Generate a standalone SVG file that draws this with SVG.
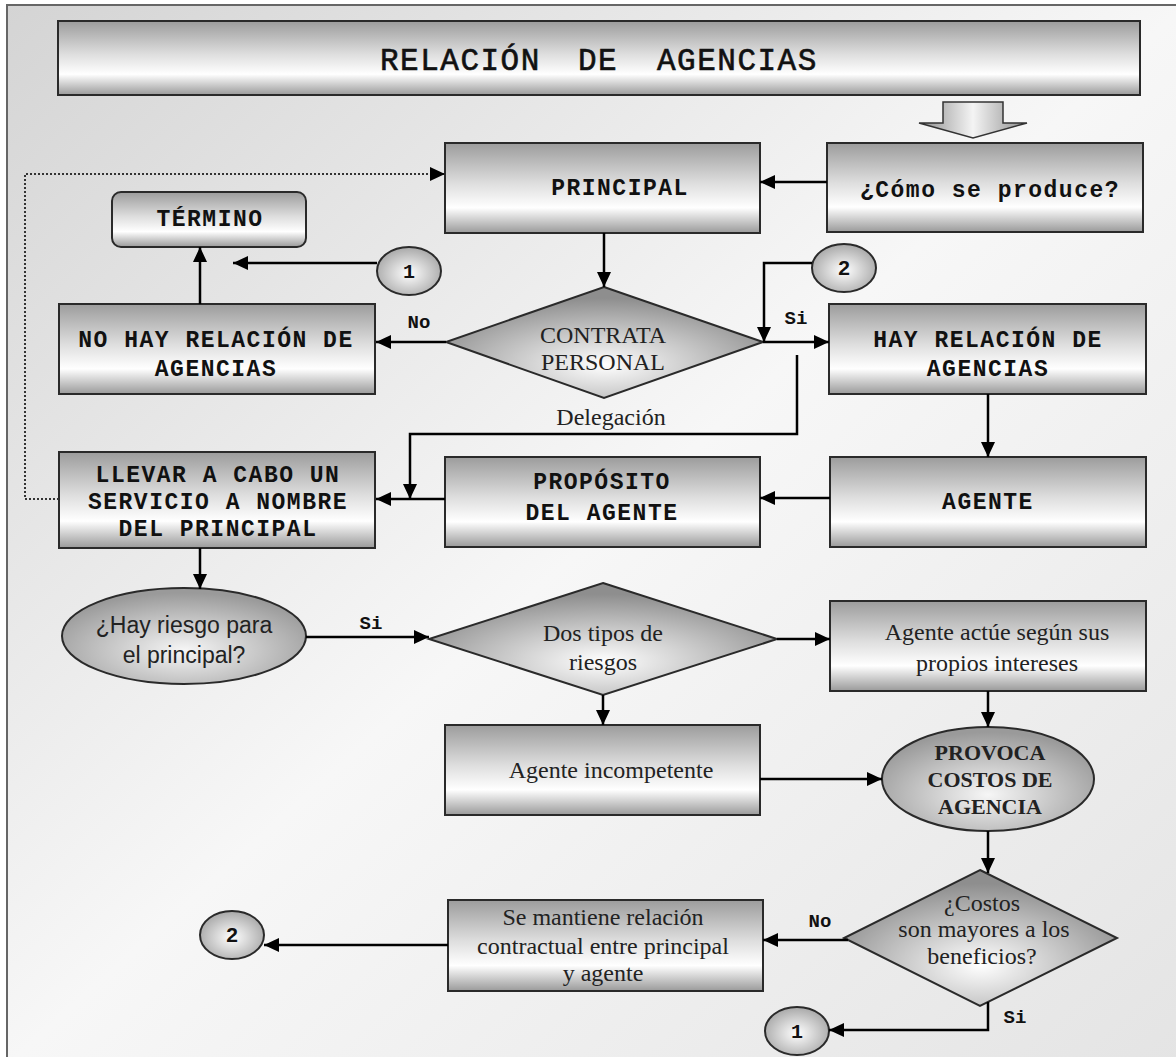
<svg xmlns="http://www.w3.org/2000/svg" width="1176" height="1057" viewBox="0 0 1176 1057">
<defs>
<linearGradient id="bg" x1="0" y1="0" x2="1" y2="1">
<stop offset="0" stop-color="#d4d4d4"/>
<stop offset="0.5" stop-color="#f7f7f7"/>
<stop offset="1" stop-color="#e4e4e4"/>
</linearGradient>
<linearGradient id="gBox" x1="0" y1="0" x2="0" y2="1">
<stop offset="0" stop-color="#9c9c9c"/>
<stop offset="0.45" stop-color="#dedede"/>
<stop offset="0.72" stop-color="#ffffff"/>
<stop offset="1" stop-color="#9a9a9a"/>
</linearGradient>
<linearGradient id="gArrow" x1="0" y1="0" x2="1" y2="0">
<stop offset="0" stop-color="#8c8c8c"/>
<stop offset="0.5" stop-color="#f4f4f4"/>
<stop offset="1" stop-color="#8c8c8c"/>
</linearGradient>
<radialGradient id="gDia" cx="0.5" cy="0.7" r="0.6">
<stop offset="0" stop-color="#ffffff"/>
<stop offset="1" stop-color="#8e8e8e"/>
</radialGradient>
<radialGradient id="gEll" cx="0.5" cy="0.65" r="0.6">
<stop offset="0" stop-color="#f6f6f6"/>
<stop offset="1" stop-color="#9a9a9a"/>
</radialGradient>
<radialGradient id="gCirc" cx="0.5" cy="0.55" r="0.55">
<stop offset="0" stop-color="#ffffff"/>
<stop offset="1" stop-color="#a8a8a8"/>
</radialGradient>
<marker id="ah" markerUnits="userSpaceOnUse" markerWidth="15" markerHeight="14" refX="15" refY="7" orient="auto">
<path d="M0,0 L15,7 L0,14 z" fill="#000"/>
</marker>
</defs>
<style>
.box{fill:url(#gBox);stroke:#2a2a2a;stroke-width:2}
.dia{fill:url(#gDia);stroke:#2a2a2a;stroke-width:2}
.ell{fill:url(#gEll);stroke:#2a2a2a;stroke-width:2}
.circ{fill:url(#gCirc);stroke:#2a2a2a;stroke-width:2}
.mono{font-family:"Liberation Mono","Courier New",monospace;font-weight:bold;font-size:23px;letter-spacing:1.5px;fill:#111;text-anchor:middle}
.ser{font-family:"Liberation Serif","Times New Roman",serif;font-size:24px;fill:#222;text-anchor:middle}
.serb{font-family:"Liberation Serif","Times New Roman",serif;font-size:22px;font-weight:bold;fill:#222;text-anchor:middle}
.sans{font-family:"Liberation Sans",Arial,sans-serif;font-size:23px;fill:#222;text-anchor:middle}
.lbl{font-family:"Liberation Mono","Courier New",monospace;font-weight:bold;font-size:19px;fill:#111;text-anchor:middle}
.num{font-family:"Liberation Mono","Courier New",monospace;font-weight:bold;font-size:20px;fill:#111;text-anchor:middle}
.nums{font-family:"Liberation Sans",Arial,sans-serif;font-weight:bold;font-size:21px;fill:#111;text-anchor:middle}
.con{fill:none;stroke:#000;stroke-width:2.5}
.dot{fill:none;stroke:#333;stroke-width:2;stroke-dasharray:2,2}
</style>

<rect x="0" y="0" width="1176" height="1057" fill="#ffffff"/>
<rect x="7" y="5" width="1180" height="1060" fill="url(#bg)" stroke="#666" stroke-width="2"/>

<g id="title">
<rect x="58" y="21" width="1082" height="74" class="box" stroke-width="2.5"/>
<text y="70" style="font-family:'Liberation Mono','Courier New',monospace;font-size:31px;letter-spacing:1.5px;fill:#111;stroke:#111;stroke-width:0.6"><tspan x="380">RELACIÓN</tspan><tspan x="578">DE</tspan><tspan x="657">AGENCIAS</tspan></text>
</g>

<g id="bigArrow">
<path d="M943,102 H1003 V123 H1027 L973,138 L919,123 H943 Z" fill="url(#gArrow)" stroke="#333" stroke-width="1.5"/>
</g>

<g id="como">
<rect x="827" y="143" width="316" height="89" class="box"/>
<text x="990" y="197" class="mono">¿Cómo se produce?</text>
</g>

<g id="principal">
<rect x="445" y="143" width="315" height="90" class="box"/>
<text x="620" y="195" class="mono">PRINCIPAL</text>
</g>

<g id="termino">
<rect x="112" y="192" width="194" height="55" rx="9" ry="9" class="box"/>
<text x="210" y="226" class="mono">TÉRMINO</text>
</g>

<g id="c1top">
<ellipse cx="409" cy="271" rx="32" ry="24" class="circ"/>
<text x="409" y="278" class="num">1</text>
</g>

<g id="c2top">
<ellipse cx="844" cy="268" rx="32" ry="24" class="circ"/>
<text x="844" y="275" class="nums">2</text>
</g>

<g id="noHay">
<rect x="59" y="304" width="316" height="90" class="box"/>
<text x="216" y="347" class="mono">NO HAY RELACIÓN DE</text>
<text x="216" y="376" class="mono">AGENCIAS</text>
</g>

<g id="contrata">
<polygon points="604,287 763,342 604,398 446,342" class="dia"/>
<text x="603" y="343" class="ser">CONTRATA</text>
<text x="603" y="370" class="ser">PERSONAL</text>
</g>

<g id="hay">
<rect x="829" y="304" width="317" height="90" class="box"/>
<text x="988" y="347" class="mono">HAY RELACIÓN DE</text>
<text x="988" y="376" class="mono">AGENCIAS</text>
</g>

<g id="llevar">
<rect x="59" y="452" width="316" height="96" class="box"/>
<text x="218" y="482" class="mono">LLEVAR A CABO UN</text>
<text x="218" y="509" class="mono">SERVICIO A NOMBRE</text>
<text x="218" y="536" class="mono">DEL PRINCIPAL</text>
</g>

<g id="proposito">
<rect x="445" y="457" width="315" height="90" class="box"/>
<text x="602" y="489" class="mono">PROPÓSITO</text>
<text x="602" y="520" class="mono">DEL AGENTE</text>
</g>

<g id="agente">
<rect x="830" y="457" width="316" height="90" class="box"/>
<text x="988" y="509" class="mono">AGENTE</text>
</g>

<g id="riesgo">
<ellipse cx="184" cy="636" rx="122" ry="48" class="ell"/>
<text x="184" y="633" class="sans">¿Hay riesgo para</text>
<text x="184" y="663" class="sans">el principal?</text>
</g>

<g id="dosTipos">
<polygon points="603,583 777,639 603,695 429,639" class="dia"/>
<text x="603" y="641" class="ser">Dos tipos de</text>
<text x="603" y="670" class="ser">riesgos</text>
</g>

<g id="actue">
<rect x="830" y="601" width="316" height="90" class="box"/>
<text x="997" y="640" class="ser">Agente actúe según sus</text>
<text x="997" y="671" class="ser">propios intereses</text>
</g>

<g id="incompetente">
<rect x="445" y="725" width="315" height="90" class="box"/>
<text x="611" y="778" class="ser">Agente incompetente</text>
</g>

<g id="provoca">
<ellipse cx="988" cy="779" rx="106" ry="52" class="ell"/>
<text x="990" y="760" class="serb">PROVOCA</text>
<text x="990" y="787" class="serb">COSTOS DE</text>
<text x="990" y="814" class="serb">AGENCIA</text>
</g>

<g id="costos">
<polygon points="980,870 1117,938 980,1006 844,938" class="dia"/>
<text x="982" y="911" class="ser">¿Costos</text>
<text x="984" y="937" class="ser">son mayores a los</text>
<text x="982" y="964" class="ser">beneficios?</text>
</g>

<g id="mantiene">
<rect x="448" y="900" width="315" height="91" class="box"/>
<text x="603" y="925" class="ser">Se mantiene relación</text>
<text x="603" y="954" class="ser">contractual entre principal</text>
<text x="603" y="981" class="ser">y agente</text>
</g>

<g id="c2bot">
<ellipse cx="232" cy="935" rx="32" ry="24" class="circ"/>
<text x="232" y="942" class="nums">2</text>
</g>

<g id="c1bot">
<ellipse cx="797" cy="1031" rx="32" ry="24" class="circ"/>
<text x="797" y="1038" class="num">1</text>
</g>

<g id="connectors">
<path d="M827,182 H760" class="con" marker-end="url(#ah)"/>
<path d="M604,233 V287" class="con" marker-end="url(#ah)"/>
<path d="M446,342 H376" class="con" marker-end="url(#ah)"/>
<path d="M200,304 V247" class="con" marker-end="url(#ah)"/>
<path d="M377,263 H233" class="con" marker-end="url(#ah)"/>
<path d="M812,263 H764 V342" class="con" marker-end="url(#ah)"/>
<path d="M763,342 H829" class="con" marker-end="url(#ah)"/>
<path d="M797,355 V434 H410 V499" class="con" marker-end="url(#ah)"/>
<path d="M445,499 H376" class="con" marker-end="url(#ah)"/>
<path d="M59,499 H25 V174 H445" class="dot" marker-end="url(#ah)"/>
<path d="M988,394 V457" class="con" marker-end="url(#ah)"/>
<path d="M830,498 H760" class="con" marker-end="url(#ah)"/>
<path d="M200,548 V589" class="con" marker-end="url(#ah)"/>
<path d="M306,637 H429" class="con" marker-end="url(#ah)"/>
<path d="M777,639 H830" class="con" marker-end="url(#ah)"/>
<path d="M603,695 V725" class="con" marker-end="url(#ah)"/>
<path d="M988,691 V727" class="con" marker-end="url(#ah)"/>
<path d="M760,779 H882" class="con" marker-end="url(#ah)"/>
<path d="M988,831 V873" class="con" marker-end="url(#ah)"/>
<path d="M848,940 H763" class="con" marker-end="url(#ah)"/>
<path d="M988,1002 V1030 H829" class="con" marker-end="url(#ah)"/>
<path d="M448,945 H264" class="con" marker-end="url(#ah)"/>
</g>

<g id="labels">
<text x="419" y="328" class="lbl">No</text>
<text x="796" y="324" class="lbl">Si</text>
<text x="611" y="425" class="ser">Delegación</text>
<text x="371" y="629" class="lbl">Si</text>
<text x="820" y="927" class="lbl">No</text>
<text x="1015" y="1023" class="lbl">Si</text>
</g>
</svg>
